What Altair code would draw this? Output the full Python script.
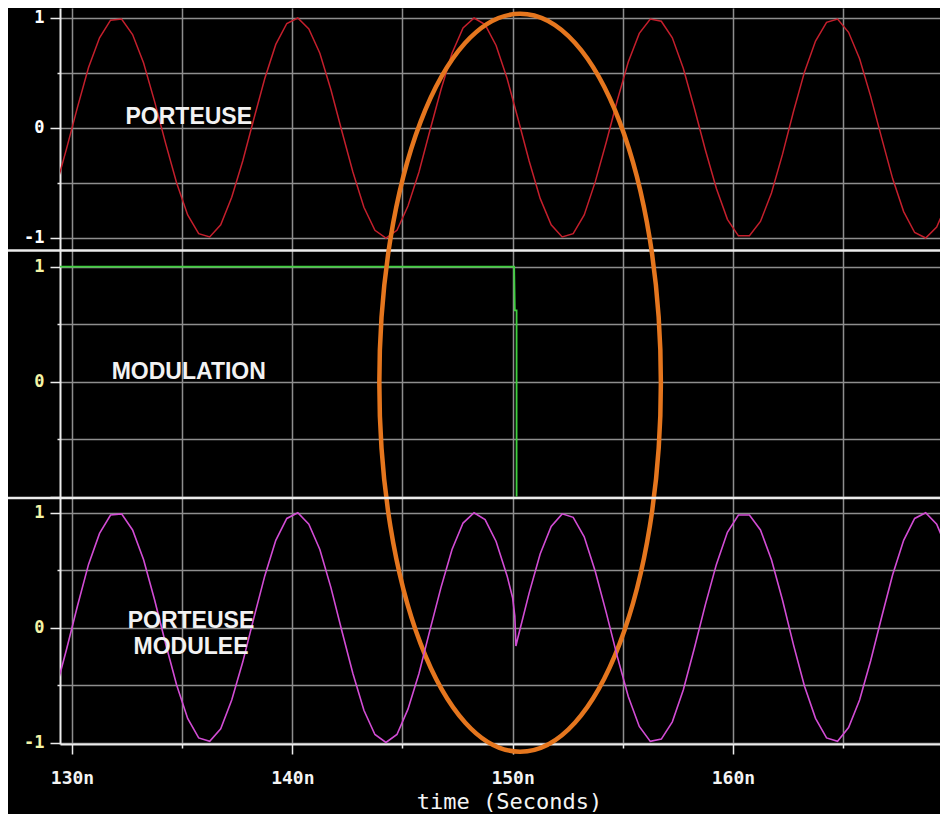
import altair as alt
import pandas as pd

# ---------------- data ----------------
# carrier ("PORTEUSE"), time in ns
carrier_t = [
    129.25, 129.75, 130.25, 130.75, 131.25, 131.75, 132.25, 132.75, 133.25, 133.75,
    134.25, 134.75, 135.25, 135.75, 136.25, 136.75, 137.25, 137.75, 138.25, 138.75,
    139.25, 139.75, 140.25, 140.75, 141.25, 141.75, 142.25, 142.75, 143.25, 143.75,
    144.25, 144.75, 145.25, 145.75, 146.25, 146.75, 147.25, 147.75, 148.25, 148.75,
    149.25, 149.75, 150.25, 150.75, 151.25, 151.75, 152.25, 152.75, 153.25, 153.75,
    154.25, 154.75, 155.25, 155.75, 156.25, 156.75, 157.25, 157.75, 158.25, 158.75,
    159.25, 159.75, 160.25, 160.75, 161.25, 161.75, 162.25, 162.75, 163.25, 163.75,
    164.25, 164.75, 165.25, 165.75, 166.25, 166.75, 167.25, 167.75, 168.25, 168.75,
    169.25, 169.75, 170.25,
]
carrier_v = [
    -0.55, -0.19, 0.19, 0.55, 0.82, 0.98, 0.99, 0.85, 0.59, 0.24,
    -0.14, -0.50, -0.79, -0.96, -0.99, -0.88, -0.63, -0.30, 0.08, 0.45,
    0.76, 0.95, 1.00, 0.90, 0.68, 0.35, -0.03, -0.40, -0.72, -0.93,
    -1.00, -0.93, -0.71, -0.40, -0.02, 0.35, 0.68, 0.91, 1.00, 0.94,
    0.75, 0.45, 0.08, -0.30, -0.64, -0.88, -0.99, -0.96, -0.79, -0.49,
    -0.13, 0.25, 0.60, 0.86, 0.99, 0.97, 0.82, 0.54, 0.18, -0.20,
    -0.55, -0.83, -0.98, -0.98, -0.85, -0.59, -0.24, 0.15, 0.51, 0.79,
    0.96, 0.99, 0.87, 0.63, 0.29, -0.09, -0.46, -0.76, -0.95, -1.00,
    -0.90, -0.67, -0.34,
]

# modulation ("MODULATION")
modulation_t = [129.25, 150.07, 150.10, 150.18, 150.18]
modulation_v = [1.00, 1.00, 0.62, 0.62, -1.00]

# modulated carrier ("PORTEUSE MODULEE")
modulated_t = [
    129.25, 129.75, 130.25, 130.75, 131.25, 131.75, 132.25, 132.75, 133.25, 133.75,
    134.25, 134.75, 135.25, 135.75, 136.25, 136.75, 137.25, 137.75, 138.25, 138.75,
    139.25, 139.75, 140.25, 140.75, 141.25, 141.75, 142.25, 142.75, 143.25, 143.75,
    144.25, 144.75, 145.25, 145.75, 146.25, 146.75, 147.25, 147.75, 148.25, 148.75,
    149.25, 149.75, 150.00, 150.10, 150.15,
    150.25, 150.75, 151.25, 151.75, 152.25, 152.75, 153.25, 153.75,
    154.25, 154.75, 155.25, 155.75, 156.25, 156.75, 157.25, 157.75, 158.25, 158.75,
    159.25, 159.75, 160.25, 160.75, 161.25, 161.75, 162.25, 162.75, 163.25, 163.75,
    164.25, 164.75, 165.25, 165.75, 166.25, 166.75, 167.25, 167.75, 168.25, 168.75,
    169.25, 169.75, 170.25,
]
modulated_v = [
    -0.55, -0.19, 0.19, 0.55, 0.82, 0.98, 0.99, 0.85, 0.59, 0.24,
    -0.14, -0.50, -0.79, -0.96, -0.99, -0.88, -0.63, -0.30, 0.08, 0.45,
    0.76, 0.95, 1.00, 0.90, 0.68, 0.35, -0.03, -0.40, -0.72, -0.93,
    -1.00, -0.93, -0.71, -0.40, -0.02, 0.35, 0.68, 0.91, 1.00, 0.94,
    0.75, 0.45, 0.26, 0.10, -0.16,
    -0.08, 0.30, 0.64, 0.88, 0.99, 0.96, 0.79, 0.49,
    0.13, -0.25, -0.60, -0.86, -0.99, -0.97, -0.82, -0.54, -0.18, 0.20,
    0.55, 0.83, 0.98, 0.98, 0.85, 0.59, 0.24, -0.15, -0.51, -0.79,
    -0.96, -0.99, -0.87, -0.63, -0.29, 0.09, 0.46, 0.76, 0.95, 1.00,
    0.90, 0.67, 0.34,
]

# panel captions
panel_names = ["PORTEUSE", "MODULATION", "PORTEUSE\nMODULEE"]
caption_t = [135.3, 135.3, 135.4]
caption_v = [0.10, 0.08, 0.055]

# annotation ellipse centre (time, modulation value)
ellipse_t = [150.34]
ellipse_v = [-0.01]

# ticks
x_ticks = [130, 135, 140, 145, 150, 155, 160, 165]
y_ticks = [-1, -0.5, 0, 0.5, 1]

# ---------------- layout / style ----------------
PLOT_W = 880
X_DOMAIN = [129.455, 169.40]
TOP_DOMAIN = [-5.6, 1.0909]
MID_DOMAIN = [-3.154, 3.2515]
BOT_DOMAIN = [-1.013, 5.3925]
TOP_SEP = -1.1136   # panel border, in top-panel units
BOT_SEP = 1.128     # panel border, in bottom-panel units

MONO = "DejaVu Sans Mono"
GRID = "#8e8e8e"
WHITE = "#ececec"
YELLOW = "#f4f4a6"
ELLIPSE = ("M 0 -1 C 0.2107 -1 0.3815 -0.5523 0.3815 0 "
           "C 0.3815 0.5523 0.2107 1 0 1 "
           "C -0.2107 1 -0.3815 0.5523 -0.3815 0 "
           "C -0.3815 -0.5523 -0.2107 -1 0 -1 Z")

carrier = pd.DataFrame({"t": carrier_t, "v": carrier_v, "i": range(len(carrier_t))})
modulation = pd.DataFrame({"t": modulation_t, "v": modulation_v, "i": range(len(modulation_t))})
modulated = pd.DataFrame({"t": modulated_t, "v": modulated_v, "i": range(len(modulated_t))})
captions = pd.DataFrame({"t": caption_t, "v": caption_v, "name": panel_names})
ellipse = pd.DataFrame({"t": ellipse_t, "v": ellipse_v})

xenc = alt.X(
    "t:Q",
    scale=alt.Scale(domain=X_DOMAIN, nice=False, zero=False),
    axis=alt.Axis(
        values=x_ticks,
        labelExpr="datum.value % 10 == 0 ? datum.value + 'n' : ''",
        title="time (Seconds)",
        grid=True, gridColor=GRID, gridWidth=1.5,
        domainColor=WHITE, domainWidth=2,
        tickColor=WHITE, tickWidth=1.5,
        tickSize={"condition": {"test": "datum.value % 10 == 0", "value": 10}, "value": 4},
        labelFont=MONO, labelFontWeight="bold", labelFontSize=18, labelColor="#f4f4f4",
        labelPadding=15, labelFlush=False, labelOverlap=False,
        titleFont=MONO, titleFontWeight="normal", titleFontSize=22, titleColor="#f4f4f4",
        titlePadding=4, titleX=449, titleAlign="center",
    ),
)


def yenc(domain, color, label_expr, domain_line):
    return alt.Y(
        "v:Q",
        scale=alt.Scale(domain=domain, nice=False, zero=False),
        axis=alt.Axis(
            values=y_ticks, orient="left", title=None,
            labelExpr=label_expr,
            grid=True, gridColor=GRID, gridWidth=1.5,
            domain=domain_line, domainColor=WHITE, domainWidth=2,
            tickColor=WHITE, tickWidth=1.5,
            tickSize={"condition": {"test": "abs(datum.value) == 0.5", "value": 3}, "value": 10},
            labelFont=MONO, labelFontWeight="bold", labelFontSize=17, labelColor=color,
            labelPadding=6, labelFlush=False, labelOverlap=False,
        ),
    )


LBL = "abs(datum.value) == 0.5 ? '' : (datum.value == -1 ? '-1' : datum.label)"
LBL_MID = "abs(datum.value) == 0.5 || datum.value == -1 ? '' : datum.label"

y_top = yenc(TOP_DOMAIN, "#ffffff", LBL, True)
y_mid = yenc(MID_DOMAIN, YELLOW, LBL_MID, False)
y_bot = yenc(BOT_DOMAIN, YELLOW, LBL, False)

text_style = dict(font="Liberation Sans", fontWeight="bold", fontSize=23, color="#f2f2f2",
                  align="center", baseline="middle", lineBreak="\n", lineHeight=26)

# ---- top panel ----
top_line = alt.Chart(carrier).mark_line(color="#c41f2c", strokeWidth=1.5, clip=True).encode(
    x=xenc, y=y_top, order="i:Q")
top_text = alt.Chart(captions.iloc[[0]]).mark_text(**text_style).encode(x=xenc, y=y_top, text="name:N")
top_sep = alt.Chart(pd.DataFrame({"v": [TOP_SEP]})).mark_rule(color=WHITE, strokeWidth=2.5).encode(
    y=y_top, x=alt.value(-52), x2=alt.value(PLOT_W))
top = alt.layer(top_line, top_text, top_sep)

# ---- middle panel ----
mid_line = alt.Chart(modulation).mark_line(color="#3fcf3f", strokeWidth=1.8, clip=True).encode(
    x=xenc, y=y_mid, order="i:Q")
mid_text = alt.Chart(captions.iloc[[1]]).mark_text(**text_style).encode(x=xenc, y=y_mid, text="name:N")
mid_ellipse = alt.Chart(ellipse).mark_point(
    shape=ELLIPSE, size=544644, filled=False, strokeWidth=4.5, color="#e5761e", opacity=1
).encode(x=xenc, y=y_mid)
mid = alt.layer(mid_line, mid_text, mid_ellipse)

# ---- bottom panel ----
bot_line = alt.Chart(modulated).mark_line(color="#d24cd4", strokeWidth=1.6, clip=True).encode(
    x=xenc, y=y_bot, order="i:Q")
bot_text = alt.Chart(captions.iloc[[2]]).mark_text(**text_style).encode(x=xenc, y=y_bot, text="name:N")
bot_sep = alt.Chart(pd.DataFrame({"v": [BOT_SEP]})).mark_rule(color=WHITE, strokeWidth=2.5).encode(
    y=y_bot, x=alt.value(-52), x2=alt.value(PLOT_W))
bot = alt.layer(bot_line, bot_text, bot_sep)

chart = (
    alt.layer(top, mid, bot)
    .resolve_scale(y="independent")
    .properties(
        width=PLOT_W, height=736,
        padding={"left": 52, "top": 0, "right": 0, "bottom": 70},
        autosize=alt.AutoSizeParams(type="none"),
        background="#000000",
    )
    .configure_view(stroke=None)
)

chart.save("out.html", embed_options={"renderer": "svg", "actions": False})
